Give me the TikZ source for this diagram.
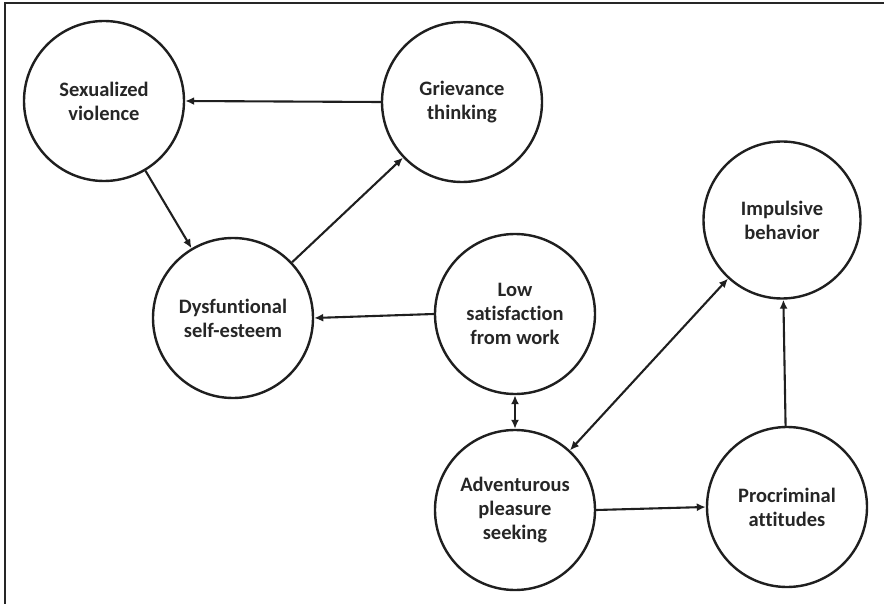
\documentclass[tikz,border=0pt]{standalone}
\usepackage{fontspec}
\setmainfont{Carlito}[Ligatures={NoCommon}]
\usetikzlibrary{arrows.meta}
\begin{document}
\begin{tikzpicture}[x=1pt,y=-1pt,
  factor/.style={circle,draw=black!88,line width=2.4pt,minimum size=160pt,inner sep=0pt,
    align=center,font=\fontsize{20.5}{24}\selectfont\bfseries,text=black!85},
  conn/.style={line width=2.1pt,draw=black!88,-{Latex[length=9pt,width=8pt]}},
  both/.style={line width=2.1pt,draw=black!88,{Latex[length=9pt,width=8pt]}-{Latex[length=9pt,width=8pt]}}]
\useasboundingbox (0,0) rectangle (884,604);
\draw[line width=2.2pt,black!85] (5,604) -- (5,3) -- (884,3);
\node[factor] (sv) at (104,101) {Sexualized\\violence};
\node[factor] (gt) at (462,102) {Grievance\\thinking};
\node[factor] (ds) at (233,318) {Dysfuntional\\self-esteem};
\node[factor] (ls) at (515,314) {Low\\satisfaction\\from work};
\node[factor] (ap) at (515,510) {Adventurous\\pleasure\\seeking};
\node[factor] (pa) at (787,507) {Procriminal\\attitudes};
\node[factor,minimum size=157pt] (ib) at (782,220) {Impulsive\\behavior};
\draw[conn] (gt.west) -- (sv.east);
\draw[conn] (sv) -- (ds);
\draw[conn] (ds) -- (gt);
\draw[conn] (ls.west) -- (ds.east);
\draw[both] (ls) -- (ap);
\draw[both] (ap) -- (ib);
\draw[conn] (ap.east) -- (pa.west);
\draw[conn] (pa) -- (ib);
\end{tikzpicture}
\end{document}
